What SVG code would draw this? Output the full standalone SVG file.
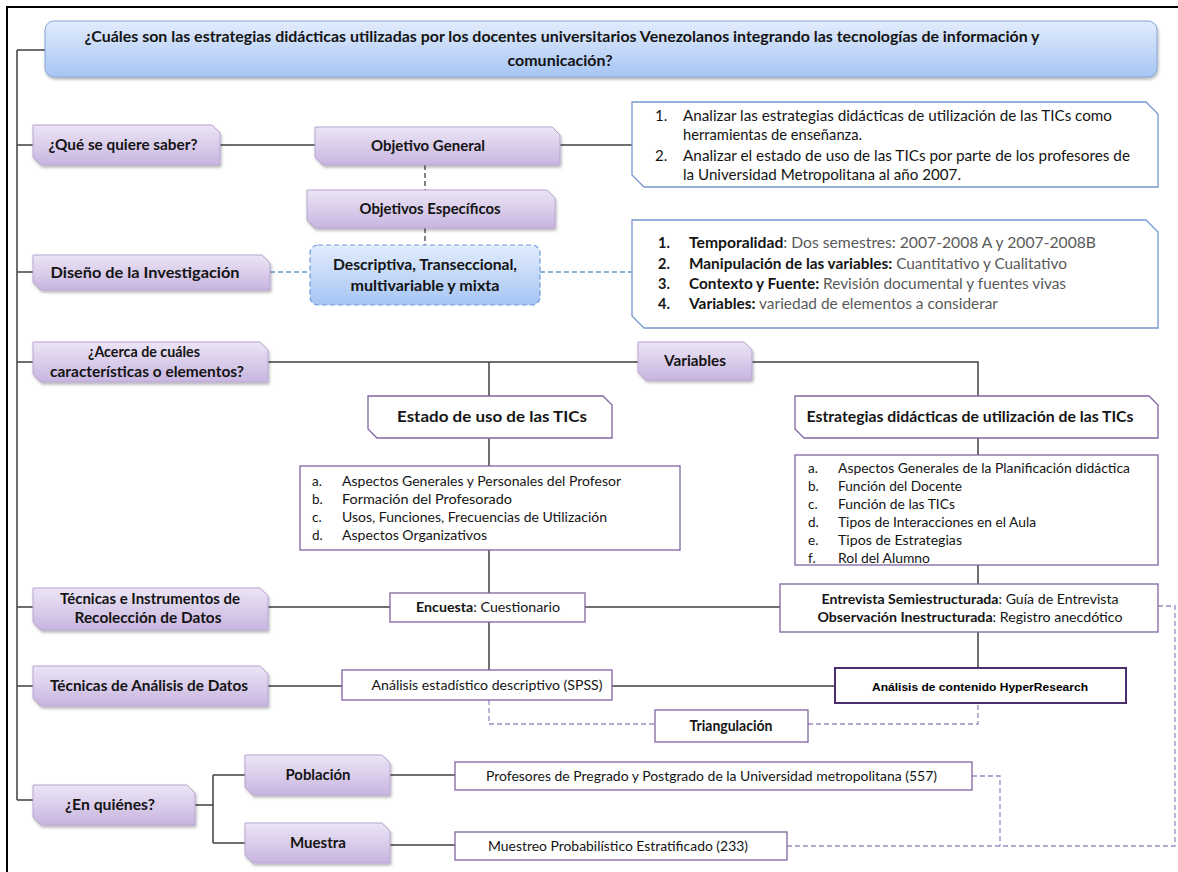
<svg xmlns="http://www.w3.org/2000/svg" width="1178" height="872" viewBox="0 0 1178 872">
  <defs>
    <linearGradient id="gBlue" x1="0" y1="0" x2="0" y2="1">
      <stop offset="0" stop-color="#e2ecfc"/>
      <stop offset="1" stop-color="#a6c5f4"/>
    </linearGradient>
    <linearGradient id="gPurple" x1="0" y1="0" x2="0" y2="1">
      <stop offset="0" stop-color="#ece5f5"/>
      <stop offset="1" stop-color="#c8b5e0"/>
    </linearGradient>
    <filter id="shadow" x="-5%" y="-20%" width="110%" height="150%">
      <feDropShadow dx="1" dy="2" stdDeviation="1.5" flood-color="#000" flood-opacity="0.3"/>
    </filter>
    <style>
      .frame { fill: none; stroke: #000; stroke-width: 2; }
      .conn { fill: none; stroke: #404040; stroke-width: 1.5; }
      .dashK { fill: none; stroke: #404040; stroke-width: 1.3; stroke-dasharray: 5 3; }
      .dashB { fill: none; stroke: #5b9bd5; stroke-width: 1.5; stroke-dasharray: 5 3; }
      .dashP { fill: none; stroke: #9d8ac4; stroke-width: 1.3; stroke-dasharray: 5 3; }
      .pnode { fill: url(#gPurple); stroke: #b8a5d4; stroke-width: 1; filter: url(#shadow); }
      .wsnip { fill: #fff; stroke: #8064a2; stroke-width: 1.3; }
      .wbox { fill: #fff; stroke: #8064a2; stroke-width: 1.3; }
      .bsnip { fill: #fff; stroke: #7598cf; stroke-width: 1.3; }
      .t { font-family: Lato, "Liberation Sans", sans-serif; fill: #141414; }
      .lbl { font-family: Lato, "Liberation Sans", sans-serif; fill: #141414; font-weight: bold; font-size: 15px; text-anchor: middle; }
      .b { font-weight: bold; }
      .c { text-anchor: middle; }
      .g { fill: #595959; }
    </style>
  </defs>

  <!-- page frame -->
  <path class="frame" d="M7 872 V7 H1178"/>

  <!-- connectors -->
  <g id="connectors">
    <path class="conn" d="M17 50 V800 M17 50 H45"/>
    <path class="conn" d="M17 145 H33 M220 145 H315 M560 145 H632"/>
    <path class="conn" d="M17 272 H33"/>
    <path class="conn" d="M17 362 H33 M268 362 H638 M752 362 H978 V396 M489 362 V396"/>
    <path class="conn" d="M489 438 V466 M978 438 V455"/>
    <path class="conn" d="M489 550 V593 M978 565 V584"/>
    <path class="conn" d="M17 607 H33 M268 607 H390 M585 607 H780"/>
    <path class="conn" d="M17 686 H33 M268 686 H342 M489 622 V670 M612 686 H835 M978 632 V668"/>
    <path class="conn" d="M17 800 H33 M195 805 H213 M213 775 V843 M213 775 H245 M213 843 H245"/>
    <path class="conn" d="M390 775 H455 M390 845 H455"/>
    <path class="dashK" d="M425 165 V190 M425 228 V245"/>
    <path class="dashB" d="M270 272 H310 M540 272 H632"/>
    <path class="dashP" d="M489 700 V724 H655 M808 724 H978 V703"/>
    <path class="dashP" d="M1158 606 H1175 V846 H787 M972 776 H1000 V846"/>
  </g>

  <!-- main question -->
  <g id="title">
    <rect x="45" y="21" width="1112" height="56" rx="9" fill="url(#gBlue)" stroke="#86a6d6" stroke-width="1" filter="url(#shadow)"/>
    <text class="t b c" x="562" y="42" font-size="16" textLength="955" lengthAdjust="spacingAndGlyphs">¿Cuáles son las estrategias didácticas  utilizadas  por los docentes universitarios Venezolanos integrando las tecnologías de información y</text>
    <text class="t b c" x="560" y="66" font-size="16">comunicación?</text>
  </g>

  <!-- row: what -->
  <g id="n-que">
    <path class="pnode" d="M33 125 H212 L220 133 V165 H41 L33 157 Z"/>
    <text class="lbl" x="123" y="150" textLength="149" lengthAdjust="spacingAndGlyphs">¿Qué se quiere  saber?</text>
  </g>
  <g id="n-objgen">
    <path class="pnode" d="M315 127 H552 L560 135 V165 H323 L315 157 Z"/>
    <text class="lbl" x="428" y="151" textLength="114" lengthAdjust="spacingAndGlyphs">Objetivo General</text>
  </g>
  <g id="n-objlist">
    <path class="bsnip" d="M632 102 H1146 L1158 114 V187 H644 L632 175 Z"/>
    <g class="t" font-size="15">
      <text x="655" y="121">1.</text>
      <text x="683" y="121" textLength="429" lengthAdjust="spacingAndGlyphs">Analizar las estrategias didácticas de utilización de las TICs como</text>
      <text x="683" y="140" textLength="179" lengthAdjust="spacingAndGlyphs">herramientas de enseñanza.</text>
      <text x="655" y="161">2.</text>
      <text x="683" y="161" textLength="447" lengthAdjust="spacingAndGlyphs">Analizar el estado de uso  de las TICs por parte de los profesores de</text>
      <text x="683" y="180" textLength="278" lengthAdjust="spacingAndGlyphs">la Universidad Metropolitana al año 2007.</text>
    </g>
  </g>
  <g id="n-objesp">
    <path class="pnode" d="M307 190 H547 L555 198 V228 H315 L307 220 Z"/>
    <text class="lbl" x="430" y="214" textLength="141" lengthAdjust="spacingAndGlyphs">Objetivos Específicos</text>
  </g>

  <!-- row: design -->
  <g id="n-diseno">
    <path class="pnode" d="M33 255 H262 L270 263 V290 H41 L33 282 Z"/>
    <text class="lbl" x="145" y="278" textLength="189" lengthAdjust="spacingAndGlyphs">Diseño de la Investigación</text>
  </g>
  <g id="n-tipo">
    <rect x="310" y="245" width="230" height="60" rx="8" fill="url(#gBlue)" stroke="#6f9ad8" stroke-width="1.2" stroke-dasharray="5 3"/>
    <text class="lbl" x="425" y="270" textLength="184" lengthAdjust="spacingAndGlyphs">Descriptiva, Transeccional,</text>
    <text class="lbl" x="425" y="291" textLength="149" lengthAdjust="spacingAndGlyphs">multivariable y mixta</text>
  </g>
  <g id="n-disenolist">
    <path class="bsnip" d="M632 220 H1146 L1158 232 V328 H644 L632 316 Z"/>
    <g class="t" font-size="14.5">
      <text class="b" x="658" y="248">1.</text>
      <text x="689" y="248" textLength="407" lengthAdjust="spacingAndGlyphs"><tspan class="b">Temporalidad</tspan><tspan class="g">: Dos semestres: 2007-2008 A  y 2007-2008B</tspan></text>
      <text class="b" x="658" y="269">2.</text>
      <text x="689" y="269" textLength="378" lengthAdjust="spacingAndGlyphs"><tspan class="b">Manipulación de las variables:</tspan><tspan class="g"> Cuantitativo y Cualitativo</tspan></text>
      <text class="b" x="658" y="289">3.</text>
      <text x="689" y="289" textLength="377" lengthAdjust="spacingAndGlyphs"><tspan class="b">Contexto y Fuente:</tspan><tspan class="g"> Revisión  documental y fuentes vivas</tspan></text>
      <text class="b" x="658" y="309">4.</text>
      <text x="689" y="309" textLength="309" lengthAdjust="spacingAndGlyphs"><tspan class="b">Variables:</tspan><tspan class="g"> variedad de elementos a considerar</tspan></text>
    </g>
  </g>

  <!-- row: variables -->
  <g id="n-acerca">
    <path class="pnode" d="M33 342 H260 L268 350 V382 H41 L33 374 Z"/>
    <text class="lbl" x="144" y="357" textLength="112" lengthAdjust="spacingAndGlyphs">¿Acerca de cuáles</text>
    <text class="lbl" x="147" y="377" textLength="194" lengthAdjust="spacingAndGlyphs">características o elementos?</text>
  </g>
  <g id="n-variables">
    <path class="pnode" d="M638 342 H744 L752 350 V380 H646 L638 372 Z"/>
    <text class="lbl" x="695" y="366" textLength="62" lengthAdjust="spacingAndGlyphs">Variables</text>
  </g>
  <g id="n-estado">
    <path class="wsnip" d="M368 396 H603 L612 405 V438 H377 L368 429 Z"/>
    <text class="lbl" x="492" y="422" textLength="190" lengthAdjust="spacingAndGlyphs">Estado de uso  de las TICs</text>
  </g>
  <g id="n-estrategias">
    <path class="wsnip" d="M795 396 H1149 L1158 405 V438 H804 L795 429 Z"/>
    <text class="lbl" x="970" y="422" textLength="327" lengthAdjust="spacingAndGlyphs">Estrategias didácticas de utilización de las TICs</text>
  </g>
  <g id="n-estadolist">
    <rect class="wbox" x="300" y="466" width="380" height="84"/>
    <g class="t" font-size="13.5">
      <text x="312" y="486">a.</text><text x="342" y="486" textLength="279" lengthAdjust="spacingAndGlyphs">Aspectos Generales y Personales del Profesor</text>
      <text x="312" y="504">b.</text><text x="342" y="504" textLength="170" lengthAdjust="spacingAndGlyphs">Formación del Profesorado</text>
      <text x="312" y="522">c.</text><text x="342" y="522" textLength="265" lengthAdjust="spacingAndGlyphs">Usos, Funciones, Frecuencias de Utilización</text>
      <text x="312" y="540">d.</text><text x="342" y="540" textLength="145" lengthAdjust="spacingAndGlyphs">Aspectos Organizativos</text>
    </g>
  </g>
  <g id="n-estrategiaslist">
    <rect class="wbox" x="795" y="455" width="363" height="110"/>
    <g class="t" font-size="13.5">
      <text x="808" y="473">a.</text><text x="838" y="473" textLength="292" lengthAdjust="spacingAndGlyphs">Aspectos Generales de la Planificación didáctica</text>
      <text x="808" y="491">b.</text><text x="838" y="491" textLength="124" lengthAdjust="spacingAndGlyphs">Función del Docente</text>
      <text x="808" y="509">c.</text><text x="838" y="509" textLength="117" lengthAdjust="spacingAndGlyphs">Función de las TICs</text>
      <text x="808" y="527">d.</text><text x="838" y="527" textLength="198" lengthAdjust="spacingAndGlyphs">Tipos de Interacciones en el Aula</text>
      <text x="808" y="545">e.</text><text x="838" y="545" textLength="124" lengthAdjust="spacingAndGlyphs">Tipos de Estrategias</text>
      <text x="808" y="563">f.</text><text x="838" y="563" textLength="92" lengthAdjust="spacingAndGlyphs">Rol del Alumno</text>
    </g>
  </g>

  <!-- row: instruments -->
  <g id="n-tecnicas">
    <path class="pnode" d="M33 588 H260 L268 596 V630 H41 L33 622 Z"/>
    <text class="lbl" x="150" y="604" textLength="180" lengthAdjust="spacingAndGlyphs">Técnicas e Instrumentos  de</text>
    <text class="lbl" x="148" y="623" textLength="147" lengthAdjust="spacingAndGlyphs">Recolección de Datos</text>
  </g>
  <g id="n-encuesta">
    <rect class="wbox" x="390" y="593" width="195" height="29"/>
    <text class="t c" x="488" y="612" font-size="13" textLength="144" lengthAdjust="spacingAndGlyphs"><tspan class="b">Encuesta</tspan>: Cuestionario</text>
  </g>
  <g id="n-entrevista">
    <rect class="wbox" x="780" y="584" width="378" height="48"/>
    <text class="t c" x="970" y="604" font-size="13.5" textLength="297" lengthAdjust="spacingAndGlyphs"><tspan class="b">Entrevista Semiestructurada</tspan>: Guía de Entrevista</text>
    <text class="t c" x="970" y="622" font-size="13.5" textLength="305" lengthAdjust="spacingAndGlyphs"><tspan class="b">Observación Inestructurada</tspan>: Registro anecdótico</text>
  </g>

  <!-- row: analysis -->
  <g id="n-analisis">
    <path class="pnode" d="M33 666 H260 L268 674 V706 H41 L33 698 Z"/>
    <text class="lbl" x="149" y="691" textLength="198" lengthAdjust="spacingAndGlyphs">Técnicas de Análisis de Datos</text>
  </g>
  <g id="n-spss">
    <rect class="wbox" x="342" y="670" width="270" height="30"/>
    <text class="t c" x="487" y="690" font-size="13" textLength="231" lengthAdjust="spacingAndGlyphs">Análisis estadístico descriptivo (SPSS)</text>
  </g>
  <g id="n-hyper">
    <rect x="835" y="668" width="291" height="35" fill="#fff" stroke="#4b2e6e" stroke-width="2"/>
    <text x="980" y="691" font-size="11.5" font-weight="bold" font-family="'Liberation Sans', Arial, sans-serif" text-anchor="middle" fill="#000" textLength="216" lengthAdjust="spacingAndGlyphs">Análisis de contenido HyperResearch</text>
  </g>
  <g id="n-triangulacion">
    <rect class="wbox" x="655" y="710" width="153" height="32"/>
    <text class="lbl" x="731" y="731" font-size="13.5" textLength="83" lengthAdjust="spacingAndGlyphs">Triangulación</text>
  </g>

  <!-- row: who -->
  <g id="n-quienes">
    <path class="pnode" d="M33 785 H187 L195 793 V825 H41 L33 817 Z"/>
    <text class="lbl" x="110" y="810" textLength="90" lengthAdjust="spacingAndGlyphs">¿En quiénes?</text>
  </g>
  <g id="n-poblacion">
    <path class="pnode" d="M245 755 H382 L390 763 V795 H253 L245 787 Z"/>
    <text class="lbl" x="318" y="780" textLength="65" lengthAdjust="spacingAndGlyphs">Población</text>
  </g>
  <g id="n-muestra">
    <path class="pnode" d="M245 823 H382 L390 831 V863 H253 L245 855 Z"/>
    <text class="lbl" x="318" y="848" textLength="56" lengthAdjust="spacingAndGlyphs">Muestra</text>
  </g>
  <g id="n-profesores">
    <rect class="wbox" x="455" y="762" width="517" height="28"/>
    <text class="t" x="486" y="781" font-size="13.5" textLength="451" lengthAdjust="spacingAndGlyphs">Profesores de Pregrado y Postgrado de la Universidad metropolitana (557)</text>
  </g>
  <g id="n-muestreo">
    <rect class="wbox" x="455" y="832" width="332" height="28"/>
    <text class="t" x="488" y="851" font-size="13.5" textLength="260" lengthAdjust="spacingAndGlyphs">Muestreo Probabilístico Estratificado (233)</text>
  </g>
</svg>
